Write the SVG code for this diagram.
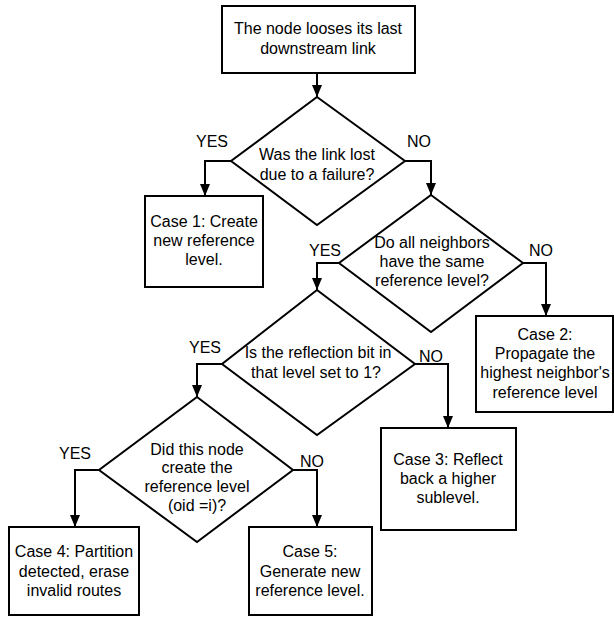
<svg xmlns="http://www.w3.org/2000/svg" width="614" height="617" viewBox="0 0 614 617">
  <style>
    .shape { fill: #ffffff; stroke: #000000; stroke-width: 2; }
    .edge { fill: none; stroke: #000000; stroke-width: 2; }
    text { font-family: "Liberation Sans", Arial, sans-serif; font-size: 16px; fill: #000000; text-anchor: middle; }
  </style>
  <defs>
    <marker id="arrow" markerUnits="userSpaceOnUse" markerWidth="12" markerHeight="12" viewBox="0 0 12 10" refX="12" refY="5" orient="auto">
      <path d="M0,0 L12,5 L0,10 Z" fill="#000000"/>
    </marker>
  </defs>
  <rect width="614" height="617" fill="#ffffff"/>

  <g id="connectors">
    <path class="edge" d="M317,73 V97" marker-end="url(#arrow)"/>
    <path class="edge" d="M231,161 H205 V196" marker-end="url(#arrow)"/>
    <path class="edge" d="M405,161 H431 V195" marker-end="url(#arrow)"/>
    <path class="edge" d="M339,263 H317 V290" marker-end="url(#arrow)"/>
    <path class="edge" d="M523,263 H546 V316" marker-end="url(#arrow)"/>
    <path class="edge" d="M222,364 H197 V397" marker-end="url(#arrow)"/>
    <path class="edge" d="M415,364 H448 V428" marker-end="url(#arrow)"/>
    <path class="edge" d="M99,470 H75 V527" marker-end="url(#arrow)"/>
    <path class="edge" d="M293,470 H317 V527" marker-end="url(#arrow)"/>
    <text x="212" y="147">YES</text>
    <text x="419" y="147">NO</text>
    <text x="325" y="256">YES</text>
    <text x="541" y="256">NO</text>
    <text x="205" y="353">YES</text>
    <text x="431" y="362">NO</text>
    <text x="75" y="459">YES</text>
    <text x="312" y="467">NO</text>
  </g>

  <g id="start">
    <rect class="shape" x="222" y="6" width="193" height="67"/>
    <text x="318" y="34">The node looses its last</text>
    <text x="318" y="54">downstream link</text>
  </g>

  <g id="q-failure">
    <polygon class="shape" points="317,97 405,161 317,225 231,161"/>
    <text x="317" y="160">Was the link lost</text>
    <text x="317" y="180">due to a failure?</text>
  </g>

  <g id="case1">
    <rect class="shape" x="145" y="196" width="118" height="91"/>
    <text x="204" y="227">Case 1: Create</text>
    <text x="204" y="246">new reference</text>
    <text x="204" y="265">level.</text>
  </g>

  <g id="q-neighbors">
    <polygon class="shape" points="431,195 523,263 431,332 339,263"/>
    <text x="432" y="248">Do all neighbors</text>
    <text x="432" y="267">have the same</text>
    <text x="432" y="286">reference level?</text>
  </g>

  <g id="case2">
    <rect class="shape" x="476" y="316" width="137" height="96"/>
    <text x="545" y="340">Case 2:</text>
    <text x="545" y="359">Propagate the</text>
    <text x="545" y="378">highest neighbor's</text>
    <text x="545" y="398">reference level</text>
  </g>

  <g id="q-reflection">
    <polygon class="shape" points="317,290 415,364 317,435 222,364"/>
    <text x="318" y="358">Is the reflection bit in</text>
    <text x="316" y="378">that level set to 1?</text>
  </g>

  <g id="case3">
    <rect class="shape" x="381" y="428" width="135" height="102"/>
    <text x="448" y="465">Case 3: Reflect</text>
    <text x="448" y="484">back a higher</text>
    <text x="448" y="503">sublevel.</text>
  </g>

  <g id="q-origin">
    <polygon class="shape" points="197,397 293,470 197,542 99,470"/>
    <text x="197" y="455">Did this node</text>
    <text x="197" y="473">create the</text>
    <text x="197" y="492">reference level</text>
    <text x="197" y="511">(oid =i)?</text>
  </g>

  <g id="case4">
    <rect class="shape" x="9" y="527" width="130" height="88"/>
    <text x="74" y="557">Case 4: Partition</text>
    <text x="74" y="577">detected, erase</text>
    <text x="74" y="596">invalid routes</text>
  </g>

  <g id="case5">
    <rect class="shape" x="249" y="527" width="123" height="88"/>
    <text x="310" y="557">Case 5:</text>
    <text x="310" y="577">Generate new</text>
    <text x="310" y="596">reference level.</text>
  </g>
</svg>
